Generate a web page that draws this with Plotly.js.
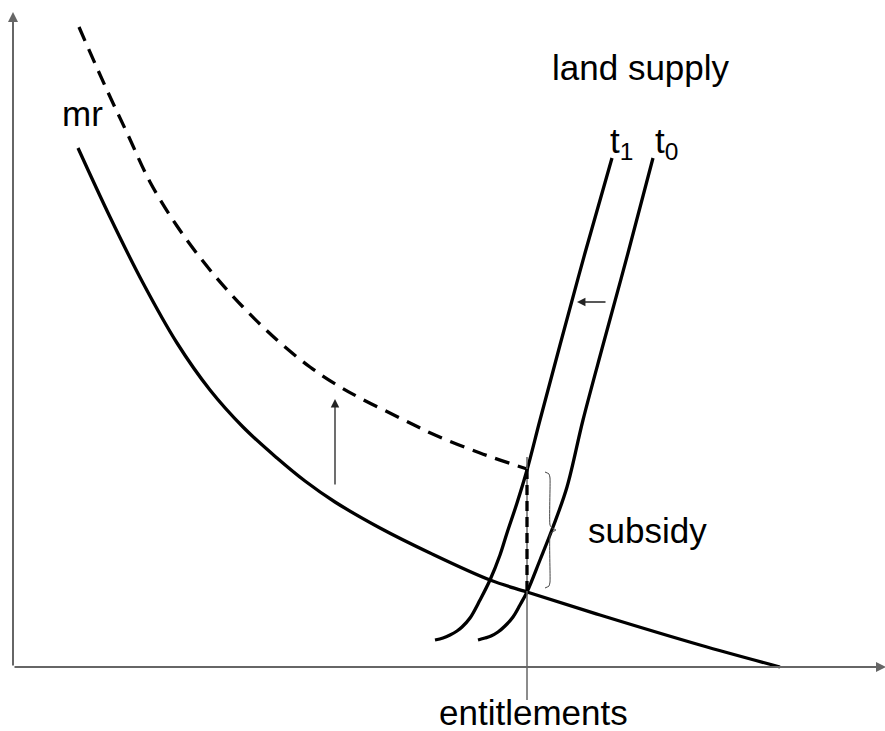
<!DOCTYPE html>
<html>
<head>
<meta charset="utf-8">
<script src="https://cdn.plot.ly/plotly-3.0.1.min.js"></script>
<style>html,body{margin:0;padding:0;background:#fff;}#chart{width:885px;height:731px;}</style>
</head>
<body>
<div id="chart"></div>
<script>
// Schematic values (origin at the axes corner)
var mrX = [65, 97, 130, 164, 197, 230, 264, 292, 322, 367, 417, 477, 514, 587, 687, 767];
var mrY = [519, 450, 384, 324, 277, 240, 209, 186, 165, 139, 114, 87, 75, 52, 22, 0];

var mrSubX = [66, 84, 99, 115, 137, 164, 197, 230, 264, 297, 324, 347, 387, 422, 467, 514];
var mrSubY = [640, 599, 566, 532, 485, 441, 397, 360, 327, 300, 282, 269, 249, 232, 214, 198];

var t1X = [422, 430, 437, 444, 449, 457, 467, 477, 487, 494, 504, 514, 527, 547, 572, 599];
var t1Y = [27, 29, 32, 36, 40, 49, 67, 87, 112, 134, 164, 197, 247, 322, 414, 509];

var t0X = [465, 472, 478, 485, 492, 500, 507, 514, 527, 540, 554, 570, 590, 615, 640];
var t0Y = [27, 29, 31, 35, 41, 50, 62, 75, 107, 140, 180, 247, 322, 414, 509];

var entitlementX = [514, 514];
var entitlementY = [210, -33];

var subsidyX = [514, 514];
var subsidyY = [198, 75];

var braceX = [532, 536, 537, 537, 539, 543, 539, 537, 537, 536, 532];
var braceY = [195, 193, 189, 142, 139, 137, 135, 132, 85, 81, 79];

var labels = ["land supply", "mr", "subsidy", "entitlements", "t<sub>1</sub>", "t<sub>0</sub>"];

var FONT = {family: "Liberation Sans, Arial, sans-serif", size: 35, color: "#000"};
var LW = 3.3;

var traces = [
  {x: mrX, y: mrY, mode: "lines", line: {color: "#000", width: LW, shape: "spline", smoothing: 1}, hoverinfo: "skip"},
  {x: mrSubX, y: mrSubY, mode: "lines", line: {color: "#000", width: LW, dash: "15px,9px", shape: "spline", smoothing: 1}, hoverinfo: "skip"},
  {x: t1X, y: t1Y, mode: "lines", line: {color: "#000", width: LW, shape: "spline", smoothing: 1}, hoverinfo: "skip"},
  {x: t0X, y: t0Y, mode: "lines", line: {color: "#000", width: LW, shape: "spline", smoothing: 1}, hoverinfo: "skip"},
  {x: entitlementX, y: entitlementY, mode: "lines", line: {color: "#666", width: 1.5}, hoverinfo: "skip"},
  {x: subsidyX, y: subsidyY, mode: "lines", line: {color: "#000", width: LW, dash: "10px,6px"}, hoverinfo: "skip"},
  {x: braceX, y: braceY, mode: "lines", line: {color: "#444", width: 1, shape: "spline", smoothing: 0.5}, hoverinfo: "skip"}
];

var ann = [
  // axes with arrowheads
  {x: 0, y: 655, ax: 0, ay: 0, xref: "x", yref: "y", axref: "x", ayref: "y", showarrow: true, arrowhead: 2, arrowsize: 1, arrowwidth: 2, arrowcolor: "#666", text: ""},
  {x: 873, y: 0, ax: 0, ay: 0, xref: "x", yref: "y", axref: "x", ayref: "y", showarrow: true, arrowhead: 2, arrowsize: 1, arrowwidth: 2, arrowcolor: "#666", text: ""},
  // shift arrows
  {x: 322, y: 268, ax: 322, ay: 181, xref: "x", yref: "y", axref: "x", ayref: "y", showarrow: true, arrowhead: 2, arrowsize: 1.3, arrowwidth: 1.3, arrowcolor: "#222", text: ""},
  {x: 564, y: 365, ax: 594, ay: 365, xref: "x", yref: "y", axref: "x", ayref: "y", showarrow: true, arrowhead: 2, arrowsize: 1.3, arrowwidth: 1.3, arrowcolor: "#222", text: ""},
  // labels
  {x: 628, y: 600, text: labels[0], showarrow: false, font: FONT, xanchor: "center", yanchor: "middle"},
  {x: 69, y: 554, text: labels[1], showarrow: false, font: FONT, xanchor: "center", yanchor: "middle"},
  {x: 634, y: 137, text: labels[2], showarrow: false, font: FONT, xanchor: "center", yanchor: "middle"},
  {x: 520, y: -45, text: labels[3], showarrow: false, font: FONT, xanchor: "center", yanchor: "middle"},
  {x: 595, y: 524, text: labels[4], showarrow: false, font: FONT, xanchor: "left", yanchor: "middle"},
  {x: 640, y: 524, text: labels[5], showarrow: false, font: FONT, xanchor: "left", yanchor: "middle"}
];

var layout = {
  width: 885, height: 731,
  margin: {l: 0, r: 0, t: 0, b: 0},
  paper_bgcolor: "#fff", plot_bgcolor: "#fff",
  showlegend: false,
  xaxis: {range: [-13, 872], visible: false, fixedrange: true},
  yaxis: {range: [-64, 667], visible: false, fixedrange: true},
  annotations: ann
};

Plotly.newPlot("chart", traces, layout, {staticPlot: true, displayModeBar: false});
</script>
</body>
</html>
